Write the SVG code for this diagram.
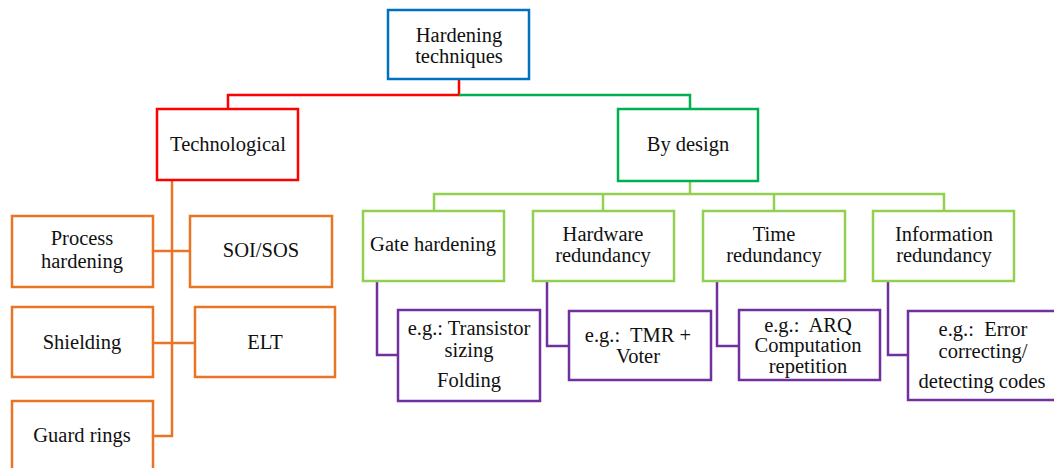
<svg xmlns="http://www.w3.org/2000/svg" width="1054" height="468" viewBox="0 0 1054 468">
<style>
rect{fill:#fff;stroke-width:2.5}
text{font-family:'Liberation Serif','Times New Roman','DejaVu Serif',serif;font-size:20.5px;fill:#111;text-anchor:middle;white-space:pre}
.c{fill:none;stroke-width:2.5}
.blue{stroke:#0070C0}.red{stroke:#FF0000}.green{stroke:#00B050}.lg{stroke:#92D050}.or{stroke:#E97424}.pu{stroke:#7030A0}
</style>
<rect width="1054" height="468" fill="#fff" stroke="none"/>
<g id="connectors">
<polyline class="c red" points="459,80 459,95 228,95 228,109"/>
<polyline class="c green" points="459,95 690,95 690,109"/>
<polyline class="c or" points="172,180 172,436 153,436"/>
<line class="c or" x1="153" y1="251" x2="190" y2="251"/>
<line class="c or" x1="153" y1="343" x2="195" y2="343"/>
<polyline class="c lg" points="690,181 690,194"/>
<polyline class="c lg" points="434,211 434,194 944,194 944,211"/>
<line class="c lg" x1="603" y1="194" x2="603" y2="211"/>
<line class="c lg" x1="774" y1="194" x2="774" y2="211"/>
<polyline class="c pu" points="377,281 377,355 398,355"/>
<polyline class="c pu" points="547,281 547,346 569,346"/>
<polyline class="c pu" points="717,281 717,346 739,346"/>
<polyline class="c pu" points="888,281 888,355 908,355"/>
</g>
<g id="root"><rect class="blue" x="388" y="10" width="141" height="69"/><text x="459" y="42">Hardening</text><text x="459" y="63">techniques</text></g>
<g id="technological"><rect class="red" x="157" y="109" width="141" height="71"/><text x="228" y="151">Technological</text></g>
<g id="bydesign"><rect class="green" x="618" y="109" width="140" height="72"/><text x="688" y="151">By design</text></g>
<g id="process"><rect class="or" x="12" y="216" width="141" height="71"/><text x="82" y="245">Process</text><text x="82" y="268">hardening</text></g>
<g id="soi"><rect class="or" x="190" y="216" width="142" height="71"/><text x="261" y="257">SOI/SOS</text></g>
<g id="shielding"><rect class="or" x="12" y="307" width="141" height="70"/><text x="82" y="349">Shielding</text></g>
<g id="elt"><rect class="or" x="195" y="307" width="140" height="70"/><text x="265" y="349">ELT</text></g>
<g id="guard"><rect class="or" x="12" y="401" width="141" height="80"/><text x="82" y="442">Guard rings</text></g>
<g id="gate"><rect class="lg" x="363" y="211" width="141" height="70"/><text x="433" y="251">Gate hardening</text></g>
<g id="hardware"><rect class="lg" x="533" y="211" width="141" height="70"/><text x="603" y="241">Hardware</text><text x="603" y="262">redundancy</text></g>
<g id="time"><rect class="lg" x="703" y="211" width="142" height="70"/><text x="774" y="241">Time</text><text x="774" y="262">redundancy</text></g>
<g id="information"><rect class="lg" x="873" y="211" width="141" height="70"/><text x="944" y="241">Information</text><text x="944" y="262">redundancy</text></g>
<g id="eg1"><rect class="pu" x="398" y="310" width="142" height="91"/><text x="469" y="335">e.g.: Transistor</text><text x="469" y="357">sizing</text><text x="469" y="387">Folding</text></g>
<g id="eg2"><rect class="pu" x="569" y="311" width="142" height="69"/><text x="638" y="342">e.g.:  TMR +</text><text x="638" y="363">Voter</text></g>
<g id="eg3"><rect class="pu" x="739" y="310" width="141" height="70"/><text x="808" y="332">e.g.:  ARQ</text><text x="808" y="352">Computation</text><text x="808" y="373">repetition</text></g>
<g id="eg4"><rect class="pu" x="908" y="311" width="160" height="89"/><text x="983" y="336">e.g.:  Error</text><text x="983" y="358">correcting/</text><text x="982" y="388">detecting codes</text></g>
</svg>
